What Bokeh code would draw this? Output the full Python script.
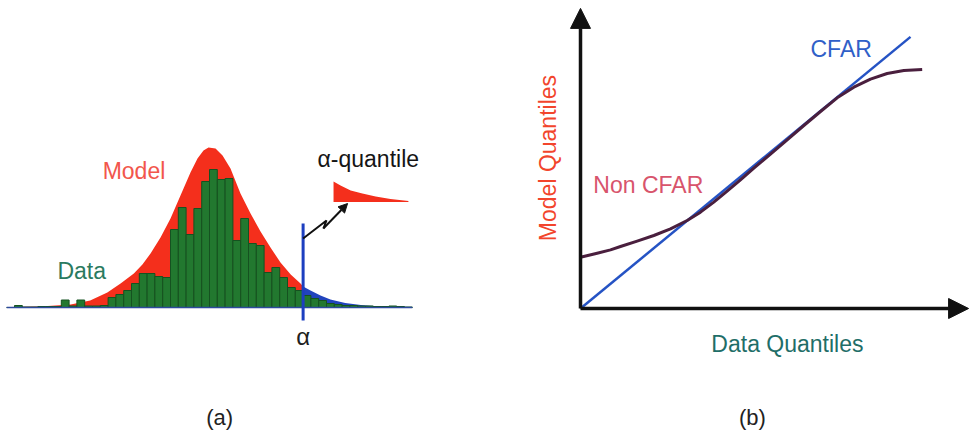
from math import pi

import numpy as np
from bokeh.embed import file_html
from bokeh.layouts import row
from bokeh.models import Arrow, Label, NormalHead, Range1d
from bokeh.plotting import figure
from bokeh.resources import INLINE

# ---------------------------------------------------------------- data
# (a) histogram of observed data, one value per bin (bins of unit width)
data_counts = [0, 2, 0.5, 0.5, 1, 1, 1, 7.5, 1.5, 7.5, 1.5, 1.5, 2, 10, 13, 17,
               24, 34, 34, 31, 30, 78, 100, 73, 99, 126, 138, 128, 129, 67, 89,
               64, 62, 35, 40, 30, 20, 17, 12, 9, 7, 4, 3, 2, 2, 1.5, 1.5, 1,
               1, 1.5, 1, 0.5]

# (a) fitted model density, same units as the histogram
model_x = [0.5, 4.3, 8.2, 10.7, 12.9, 14.6, 16.3, 17.4, 18.44, 19.72, 21.0,
           22.28, 23.56, 24.46, 25.23, 25.87, 26.77, 27.67, 28.69, 29.97, 31.26,
           32.54, 33.82, 35.1, 36.41, 37.67, 38.0, 38.95, 40.23, 41.5, 43.4,
           45.4, 47.9, 51.8]
model_h = [0.5, 1, 3, 7, 15, 24, 34, 43, 54, 70, 89, 112, 135, 149, 157, 160,
           159, 152, 139, 114, 94, 76, 60, 45, 33, 24, 21, 17, 12, 8, 4.5, 2.5,
           1, 0]

# threshold whose upper tail defines the alpha-quantile
alpha = 38.0

# magnified upper tail shown in the inset flag
tail_x = [41.9, 42.8, 44.1, 45.6, 47.3, 49.2, 51.5]
tail_h = [20.5, 16.5, 11.5, 8.5, 5.5, 3.0, 1.0]

# (b) quantile-quantile curves
qq_data = [0.0, 1.0]                 # CFAR: model quantiles equal data quantiles
qq_model = [0.0, 1.0]
nc_data = [0.0, 0.0505, 0.0909, 0.1212, 0.1717, 0.2222, 0.2727, 0.3232, 0.3636,
           0.404, 0.4444, 0.4848, 0.5253, 0.5758, 0.6263, 0.6768, 0.7273,
           0.7778, 0.8283, 0.8788, 0.9293, 0.9798, 1.0354]
nc_model = [0.189, 0.2037, 0.216, 0.2283, 0.2479, 0.2688, 0.2933, 0.324, 0.3547,
            0.3915, 0.432, 0.4737, 0.5167, 0.5682, 0.621, 0.6738, 0.7253,
            0.7757, 0.8149, 0.8444, 0.8652, 0.8763, 0.880]

FONT = "Liberation Sans"
RED = "#f42f1c"
GREEN = "#22782f"
BLUE = "#2144bd"


def label(fig, x, y, text, color, size="23px", align="left", angle=0.0):
    fig.add_layout(Label(x=x, y=y, text=text, text_color=color,
                         text_font=FONT, text_font_size=size,
                         text_align=align, text_baseline="alphabetic",
                         angle=angle))


def bare_figure(width, x_range, y_range):
    fig = figure(width=width, height=434, output_backend="svg",
                 toolbar_location=None, x_range=x_range, y_range=y_range,
                 x_axis_location=None, y_axis_location=None,
                 min_border=0, outline_line_color=None,
                 background_fill_color="white", border_fill_color="white")
    fig.xgrid.visible = False
    fig.ygrid.visible = False
    return fig


# ---------------------------------------------------------------- (a)
p1 = bare_figure(520, Range1d(-0.795, 65.87), Range1d(-127, 307))

edges = np.arange(len(data_counts) + 1)

mx = np.array(model_x)
mh = np.array(model_h)
body = mx <= alpha
tail = mx >= alpha
p1.varea(x=mx[body], y1=0, y2=mh[body], fill_color=RED)
p1.varea(x=mx[tail], y1=0, y2=mh[tail], fill_color=BLUE)

p1.quad(left=edges[:-1], right=edges[1:], bottom=0, top=data_counts,
        fill_color=GREEN, line_color="#155220", line_width=1)

p1.line(x=[edges[0], edges[-1]], y=[0, 0], line_color="#2c4a9c", line_width=1.5)

# threshold marker
p1.line(x=[alpha, alpha], y=[-13, 84], line_color="#1d3fc0", line_width=3)

# zig-zag pointer from the threshold to the inset
p1.line(x=[alpha, 41.0, 40.6], y=[69, 87, 79], line_color="#111111", line_width=2)
p1.add_layout(Arrow(end=NormalHead(size=9, fill_color="#111111", line_color="#111111"),
                    x_start=40.6, y_start=79, x_end=43.7, y_end=104,
                    line_color="#111111", line_width=2))

# inset: the tail beyond alpha
flag_base = 105.5
p1.varea(x=tail_x, y1=flag_base, y2=[flag_base + h for h in tail_h], fill_color=RED)

label(p1, 12.3, 137, "Model", "#f2564c")
label(p1, 6.5, 37, "Data", "#2a7a60")
label(p1, 39.85, 149, "α-quantile", "#151515", size="23px")
label(p1, alpha, -29, "α", "#202020", size="24px", align="center")
label(p1, 27.3, -110, "(a)", "#222222", size="22px", align="center")

# ---------------------------------------------------------------- (b)
p2 = bare_figure(449, Range1d(-60 / 330, 389 / 330), Range1d(-126 / 271.6, 308 / 271.6))

p2.line(x=qq_data, y=qq_model, line_color="#2553c4", line_width=2.5)
p2.line(x=nc_data, y=nc_model, line_color="#4a1f3e", line_width=3,
        line_join="round")

for xe, ye in [(0.0, 1.105), (1.176, 0.0)]:
    p2.add_layout(Arrow(end=NormalHead(size=20, fill_color="#111111", line_color="#111111"),
                        x_start=0, y_start=0, x_end=xe, y_end=ye,
                        line_color="#111111", line_width=3.5))

label(p2, 0.697, 0.954, "CFAR", "#3060c8")
label(p2, 0.039, 0.453, "Non CFAR", "#d8546c")
label(p2, 0.627, -0.129, "Data Quantiles", "#1f6e68", align="center")
label(p2, -0.097, 0.554, "Model Quantiles", "#f2452c", align="center", angle=pi / 2)
label(p2, 0.521, -0.401, "(b)", "#222222", size="22px", align="center")

layout = row(p1, p2, spacing=0)

with open("out.html", "w") as f:
    f.write(file_html(layout, INLINE))
